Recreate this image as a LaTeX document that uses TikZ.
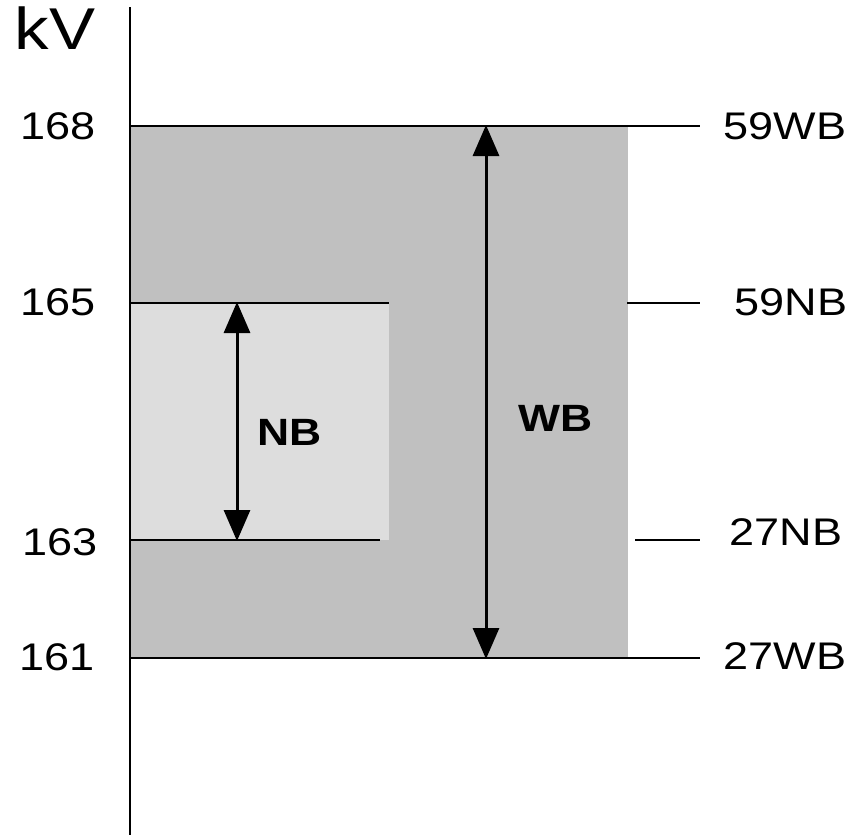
\documentclass[tikz,border=0pt]{standalone}
\usepackage{fontspec}
\setmainfont{Liberation Sans}[FakeStretch=1.17]
\usetikzlibrary{arrows.meta}
\definecolor{wbgrey}{HTML}{C0C0C0}
\definecolor{nbgrey}{HTML}{DDDDDD}
\tikzset{
  rule/.style={line width=2.8pt, black},
  dimarrow/.style={line width=3pt, black, {Triangle[length=31pt,width=26pt]}-{Triangle[length=31pt,width=26pt]}, shorten <=-1pt, shorten >=-1pt},
  lbl/.style={inner sep=0pt, font=\fontsize{38.5}{40}\selectfont},
  blbl/.style={inner sep=0pt, font=\fontsize{38}{40}\selectfont\bfseries},
  unitlbl/.style={inner sep=0pt, font=\fontsize{59}{62}\selectfont}
}
\begin{document}
\begin{tikzpicture}[x=1pt,y=-1pt]
\useasboundingbox (0,0) rectangle (868,835);
% shaded bands
\fill[wbgrey] (130,126) rectangle (628,658);
\fill[nbgrey] (130,303) rectangle (389,540);
% level lines
\draw[rule] (130,126) -- (700,126);
\draw[rule] (130,658) -- (700,658);
\draw[rule] (130,303) -- (389,303);
\draw[rule] (130,540) -- (380,540);
\draw[rule] (627,303) -- (700,303);
\draw[rule] (635,540) -- (700,540);
% axis
\draw[rule] (130,7) -- (130,835);
% arrow end points
\coordinate (nbtop) at (237,303);
\coordinate (nbbot) at (237,540);
\coordinate (wbtop) at (486,126);
\coordinate (wbbot) at (486,658);
\draw[dimarrow] (nbtop) -- (nbbot);
\draw[dimarrow] (wbtop) -- (wbbot);
% labels
\node[unitlbl] (kv) at (55,28) {kV};
\node[lbl] (v168) at (58,126) {168};
\node[lbl] (v165) at (58,302) {165};
\node[lbl] (v163) at (60,542) {163};
\node[lbl] (v161) at (57,657) {161};
\node[lbl] (l59wb) at (785,126) {59WB};
\node[lbl] (l59nb) at (791,302) {59NB};
\node[lbl] (l27nb) at (786,532) {27NB};
\node[lbl] (l27wb) at (785,656) {27WB};
\node[blbl] (nb) at (290,432) {NB};
\node[blbl] (wb) at (556,418) {WB};
\end{tikzpicture}
\end{document}
